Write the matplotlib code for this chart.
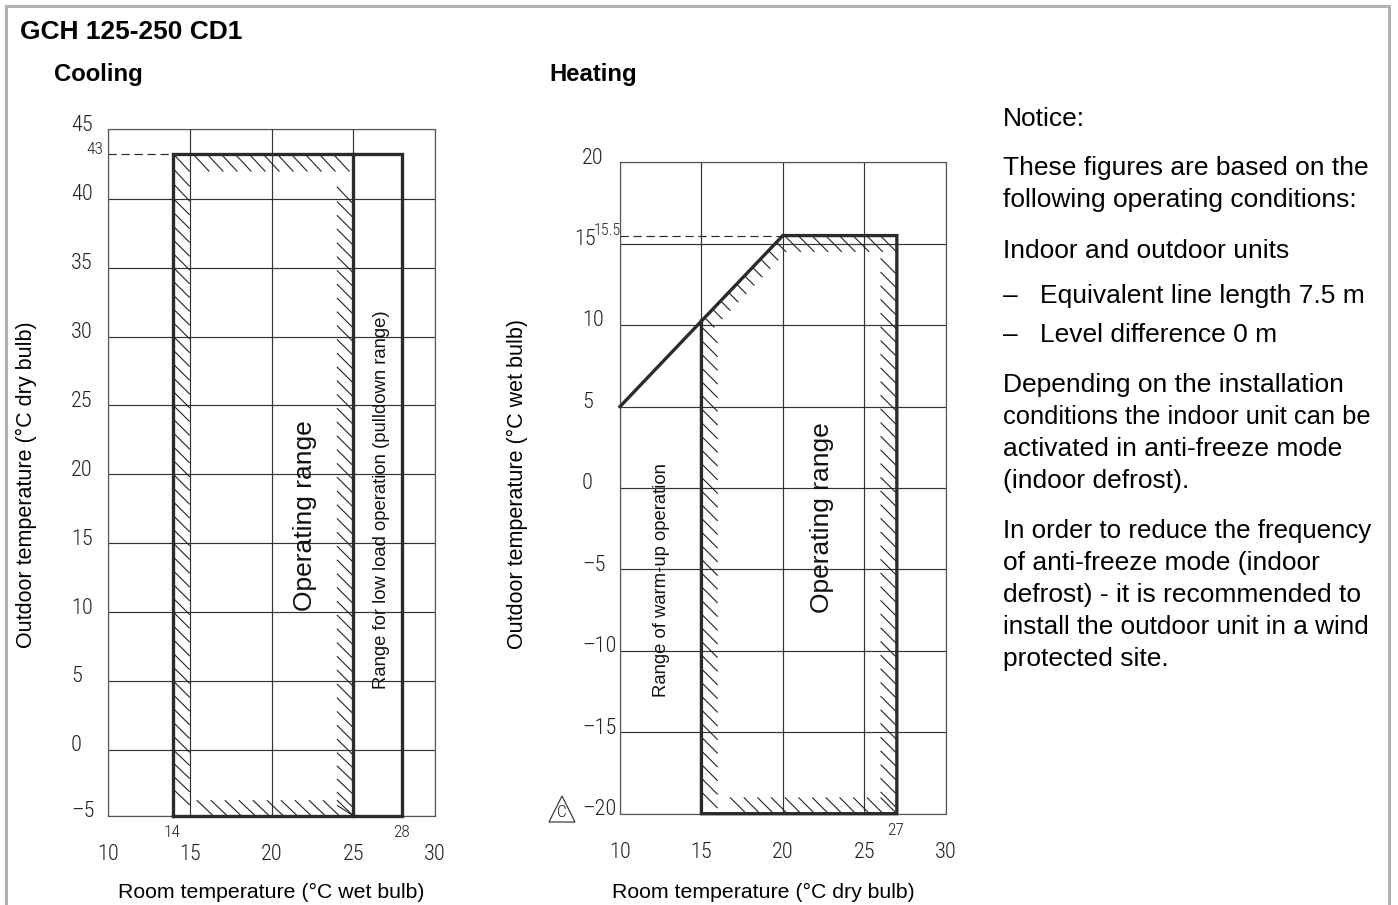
import matplotlib
matplotlib.use("Agg")
import matplotlib.pyplot as plt
from matplotlib.collections import LineCollection
from matplotlib.patches import Polygon, Rectangle
import numpy as np

W, H = 1398, 905
BODY = ["Liberation Sans", "DejaVu Sans"]
DIN = ["Roboto Condensed", "DejaVu Sans"]
LINE = "#2b2b2b"

# cooling chart values
cool_x_ticks = [10, 15, 20, 25, 30]
cool_y_ticks = [45, 40, 35, 30, 25, 20, 15, 10, 5, 0, -5]
cool_y_labels = ["45", "40", "35", "30", "25", "20", "15", "10", "5", "0", "–5"]
cool_x = [14, 14, 28, 28, 14]
cool_y = [-5, 43, 43, -5, -5]
cool_limit_x = 25

# heating chart values
heat_x_ticks = [10, 15, 20, 25, 30]
heat_y_ticks = [20, 15, 10, 5, 0, -5, -10, -15, -20]
heat_y_labels = ["20", "15", "10", "5", "0", "–5", "–10", "–15", "–20"]
heat_x = [10, 20, 27, 27, 15, 15]
heat_y = [5, 15.5, 15.5, -20, -20, 10.25]

# the printed cooling scale is not quite even, so keep its real spacing
cool_scale_vals = [-5, 0, 40, 43, 45]
cool_scale_px = [0, 65.7, 617, 661.7, 686.2]

notice_lines = [
    ("Notice:", 1003, 126),
    ("These figures are based on the", 1003, 175),
    ("following operating conditions:", 1003, 207),
    ("Indoor and outdoor units", 1003, 258),
    ("–", 1003, 303),
    ("Equivalent line length 7.5 m", 1040, 303),
    ("–", 1003, 342),
    ("Level difference 0 m", 1040, 342),
    ("Depending on the installation", 1003, 392),
    ("conditions the indoor unit can be", 1003, 424),
    ("activated in anti-freeze mode", 1003, 456),
    ("(indoor defrost).", 1003, 488),
    ("In order to reduce the frequency", 1003, 538),
    ("of anti-freeze mode (indoor", 1003, 570),
    ("defrost) - it is recommended to", 1003, 602),
    ("install the outdoor unit in a wind", 1003, 634),
    ("protected site.", 1003, 666),
]
# these lines are set tighter in the original
tight_sizes = {
    "conditions the indoor unit can be": 18.4,
    "In order to reduce the frequency": 18.6,
    "install the outdoor unit in a wind": 18.8,
}


def fx(px):
    return px / W


def fy(py):
    return 1 - py / H


def page_text(fig, px, py, s, **kw):
    kw.setdefault("family", BODY)
    kw.setdefault("color", "black")
    fig.text(fx(px), fy(py), s, **kw)


def make_axes(fig, left, top, right, bottom):
    return fig.add_axes([fx(left), fy(bottom), fx(right - left), (bottom - top) / H])


def setup_grid(ax, xticks, yticks, ylabels, xlim, ylim, label_x, shift=None):
    ax.set_xlim(*xlim)
    ax.set_ylim(*ylim)
    ax.set_xticks(xticks)
    ax.set_yticks(yticks)
    ax.minorticks_off()
    ax.grid(True, color="#333333", lw=0.85)
    ax.set_axisbelow(True)
    ax.tick_params(length=0, labelleft=False, labelbottom=False)
    for s in ax.spines.values():
        s.set_color("#555555")
        s.set_linewidth(0.85)
    shift = shift or {}
    for v, lab in zip(yticks, ylabels):
        ax.annotate(lab, xy=(0, v), xycoords=("axes fraction", "data"),
                    xytext=((label_x + shift.get(v, 0)) * 0.72, 3), textcoords="offset points",
                    ha="left", va="center", family=DIN, weight=300, fontsize=16, color="#222222")
    for v in xticks:
        ax.annotate(str(v), xy=(v, 0), xycoords=("data", "axes fraction"),
                    xytext=(0, -39 * 0.72), textcoords="offset points",
                    ha="center", va="center", family=DIN, weight=300, fontsize=16, color="#222222")


def note(ax, x, y, px, py, s, size=12.5):
    # small value notes next to the outline corners
    ax.annotate(s, xy=(x, y), xycoords=("data", "data"), xytext=(px * 0.72, py * 0.72),
                textcoords="offset points", ha="center", va="center",
                family=DIN, weight=300, fontsize=size, color="#222222", annotation_clip=False)


def strokes(ax, starts, dx, dy, lw=0.8):
    segs = [[(x, y), (x + dx, y - dy)] for x, y in starts]
    ax.add_collection(LineCollection(segs, colors="#222222", linewidths=lw, zorder=2))


fig = plt.figure(figsize=(W / 100, H / 100), dpi=100, facecolor="white")

# grey page frame, open at the bottom
for rect in [(5, 5, 1386, 3), (5, 5, 3, 900), (1388, 5, 3, 900)]:
    fig.add_artist(Rectangle((fx(rect[0]), fy(rect[1] + rect[3])), rect[2] / W, rect[3] / H,
                             transform=fig.transFigure, color="#b2b2b2", lw=0))

page_text(fig, 20, 39, "GCH 125-250 CD1", fontsize=19, fontweight="bold")
page_text(fig, 54, 81, "Cooling", fontsize=17.2, fontweight="bold")
page_text(fig, 549, 81, "Heating", fontsize=17.2, fontweight="bold")
for s, px, py in notice_lines:
    page_text(fig, px, py, s, fontsize=tight_sizes.get(s, 19))

page_text(fig, 271, 892, "Room temperature (°C wet bulb)", fontsize=15.3, ha="center", va="center")
page_text(fig, 763, 892, "Room temperature (°C dry bulb)", fontsize=15.3, ha="center", va="center")
page_text(fig, 26, 485, "Outdoor temperature (°C dry bulb)", fontsize=15.5, rotation=90, ha="center", va="center")
page_text(fig, 517, 484, "Outdoor temperature (°C wet bulb)", fontsize=15.5, rotation=90, ha="center", va="center")

# cooling
ax1 = make_axes(fig, 108, 129.5, 435, 815.7)
ax1.set_yscale("function", functions=(
    lambda v: np.interp(v, cool_scale_vals, cool_scale_px),
    lambda p: np.interp(p, cool_scale_px, cool_scale_vals),
))
setup_grid(ax1, cool_x_ticks, cool_y_ticks, cool_y_labels, (10, 30), (-5, 45), -37)
ax1.plot([10, 14], [43, 43], color=LINE, lw=0.85, dashes=(7, 4))
ax1.plot(cool_x, cool_y, color=LINE, lw=2.4, clip_on=False, solid_joinstyle="miter", zorder=3)
ax1.plot([cool_limit_x, cool_limit_x], [-5, 43], color=LINE, lw=2.4, clip_on=False, zorder=3)
strokes(ax1, [(14, y) for y in np.arange(43, -4, -1.0)], 1, 1.18)
strokes(ax1, [(24, y) for y in np.arange(40.8, -4.5, -1.0)], 1, 1.18)
strokes(ax1, [(x, 43) for x in np.arange(15.2, 24.5, 0.857)], 1, 1.18)
strokes(ax1, [(x, -3.82) for x in np.arange(24, 15, -0.857)], 1, 1.18)
note(ax1, 10, 43, -13, 5, "43")
note(ax1, 14, -5, -1, -17, "14")
note(ax1, 28, -5, -1, -17, "28")
page_text(fig, 305, 516, "Operating range", fontsize=19, rotation=90, ha="center", va="center", color="#111111")
page_text(fig, 381, 500, "Range for low load operation (pulldown range)", fontsize=13.3, rotation=90, ha="center", va="center", color="#111111")

# heating
ax2 = make_axes(fig, 620, 162.3, 945.7, 813.7)
setup_grid(ax2, heat_x_ticks, heat_y_ticks, heat_y_labels, (10, 30), (-20, 20), -38, shift={15: -8})
ax2.plot([10, 20], [15.5, 15.5], color=LINE, lw=0.85, dashes=(7, 4))
ax2.plot(heat_x, heat_y, color=LINE, lw=2.4, clip_on=False, solid_joinstyle="miter", zorder=3)
strokes(ax2, [(15, y) for y in np.arange(9.9, -19.5, -0.84)], 1, 1)
strokes(ax2, [(26, y) for y in np.arange(14.1, -19.5, -0.84)], 1, 1)
strokes(ax2, [(x, 15.5) for x in np.arange(20.1, 26.5, 0.84)], 1, 1)
strokes(ax2, [(x, -19) for x in np.arange(26, 16.2, -0.84)], 1, 1)
strokes(ax2, [(x, 5 + (x - 10) * 1.05) for x in np.arange(15.2, 20, 0.49)], 0.6, 0.6)
note(ax2, 10, 15.5, -12.5, 5.5, "15.5", size=11.5)
note(ax2, 27, -20, -1, -17, "27")
page_text(fig, 822, 518, "Operating range", fontsize=19, rotation=90, ha="center", va="center", color="#111111")
page_text(fig, 662, 580, "Range of warm-up operation", fontsize=13.3, rotation=90, ha="center", va="center", color="#111111")

# warning triangle beside the -20 label
fig.add_artist(Polygon([(fx(549), fy(822)), (fx(575), fy(822)), (fx(562), fy(796))],
                       closed=True, fill=False, edgecolor="#333333", lw=0.85,
                       transform=fig.transFigure))
page_text(fig, 562, 812, "C", family=DIN, weight=300, fontsize=12.5, ha="center", va="center", color="#222222")

fig.savefig("out.png", dpi=100, facecolor="white")
